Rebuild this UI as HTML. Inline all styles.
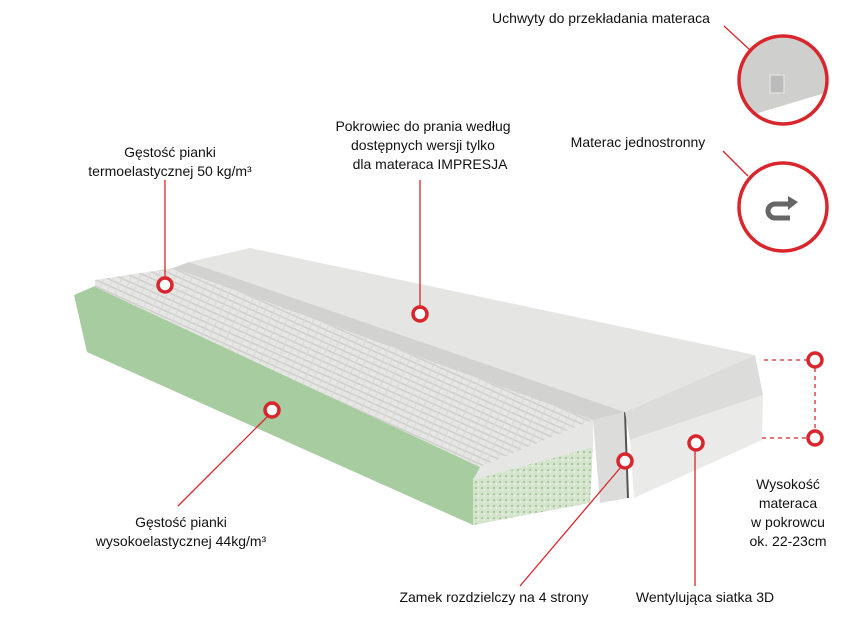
<!DOCTYPE html>
<html><head><meta charset="utf-8"><style>
body{margin:0;background:#fff;}
svg{display:block;}
text{font-family:"Liberation Sans",sans-serif;font-size:14px;fill:#111;}
</style></head><body>
<svg width="854" height="639" viewBox="0 0 854 639" xmlns="http://www.w3.org/2000/svg">
<defs>
<pattern id="rib" width="8" height="6" patternUnits="userSpaceOnUse" patternTransform="rotate(24)">
<rect width="8" height="6" fill="#e6e6e4"/><rect width="8" height="1.5" fill="#cfcfcc"/><rect width="1" height="6" fill="#d8d8d5"/>
</pattern>
<pattern id="gr" width="6" height="6" patternUnits="userSpaceOnUse">
<rect width="6" height="6" fill="#d4e4cd"/><rect x="1" y="1" width="2" height="2" fill="#a9c9a0"/><rect x="4" y="3" width="1" height="2" fill="#eef3ea"/>
</pattern>
<clipPath id="c1"><circle cx="783" cy="80" r="44"/></clipPath>
</defs>
<!-- green side -->
<polygon points="74,295 95,286 480,467 473,525 87,352" fill="#a6cc9f"/>
<!-- green end -->
<polygon points="473,478 593,447 590,503 473,525" fill="url(#gr)"/>
<!-- topper top -->
<polygon points="95,280 173,268 593,420 480,467 95,287" fill="url(#rib)"/>
<polygon points="480,467 593,420 593,447 473,480" fill="#e6e6e4"/>
<!-- zip band -->
<polygon points="593,420 625,412 628,498 600,503" fill="#dcdcda"/>
<polyline points="625,412 628,498" stroke="#555" stroke-width="2" fill="none"/>
<!-- cover top -->
<polygon points="189,262 250,248 755,355 625,412" fill="#e5e5e3"/>
<polygon points="173,268 189,262 625,412 593,420" fill="#d2d2d0"/>
<!-- cover side -->
<polygon points="625,412 755,355 763,395 630,440" fill="#dcdcda"/>
<polygon points="630,440 763,395 762,440 634,498" fill="#eaeae8"/>
<!-- lines -->
<g stroke="#d9262c" stroke-width="1.3" fill="none">
<line x1="165" y1="180" x2="165" y2="278"/>
<line x1="420" y1="180" x2="420" y2="307"/>
<line x1="268" y1="416" x2="178" y2="506"/>
<line x1="621" y1="467" x2="520" y2="586"/>
<line x1="695" y1="450" x2="695" y2="586"/>
<line x1="724" y1="26" x2="750" y2="50"/>
<line x1="723" y1="151" x2="748" y2="176"/>
<g stroke-dasharray="4,4"><line x1="764" y1="360" x2="807" y2="360"/><line x1="815" y1="368" x2="815" y2="430"/><line x1="762" y1="438" x2="807" y2="438"/></g>
</g>
<g fill="#fff" stroke="#d9262c" stroke-width="3.5">
<circle cx="165" cy="285" r="7"/><circle cx="420" cy="314" r="7"/><circle cx="272" cy="410" r="7"/>
<circle cx="625" cy="461" r="7"/><circle cx="696" cy="443" r="7"/><circle cx="815" cy="360" r="7"/><circle cx="815" cy="438" r="7"/>
</g>
<g clip-path="url(#c1)"><rect x="735" y="30" width="100" height="100" fill="#cfcfcd"/>
<polygon points="735,120 835,90 835,130 735,130" fill="#fff"/><rect x="770" y="75" width="14" height="18" fill="#bbb" stroke="#e8e8e8"/></g>
<circle cx="783" cy="80" r="44" fill="none" stroke="#d9262c" stroke-width="3.5"/>
<circle cx="783" cy="207" r="44" fill="#fff" stroke="#d9262c" stroke-width="3.5"/>
<path d="M790,204 H775 A7,7 0 0 0 775,218 H790" fill="none" stroke="#666" stroke-width="5"/>
<polygon points="788,196 798,202 788,210" fill="#666"/>
<text x="601" y="23" text-anchor="middle">Uchwyty do przekładania materaca</text>
<text x="638" y="147" text-anchor="middle">Materac jednostronny</text>
<text x="423" y="131" text-anchor="middle">Pokrowiec do prania według</text>
<text x="423" y="150" text-anchor="middle">dostępnych wersji tylko</text>
<text x="430" y="169" text-anchor="middle">dla materaca IMPRESJA</text>
<text x="170" y="157" text-anchor="middle">Gęstość pianki</text>
<text x="170" y="176" text-anchor="middle">termoelastycznej 50 kg/m³</text>
<text x="181" y="527" text-anchor="middle">Gęstość pianki</text>
<text x="181" y="546" text-anchor="middle">wysokoelastycznej 44kg/m³</text>
<text x="494" y="602" text-anchor="middle">Zamek rozdzielczy na 4 strony</text>
<text x="705" y="602" text-anchor="middle">Wentylująca siatka 3D</text>
<text x="788" y="489" text-anchor="middle">Wysokość</text>
<text x="788" y="508" text-anchor="middle">materaca</text>
<text x="788" y="527" text-anchor="middle">w pokrowcu</text>
<text x="788" y="546" text-anchor="middle">ok. 22-23cm</text>
</svg>
</body></html>
